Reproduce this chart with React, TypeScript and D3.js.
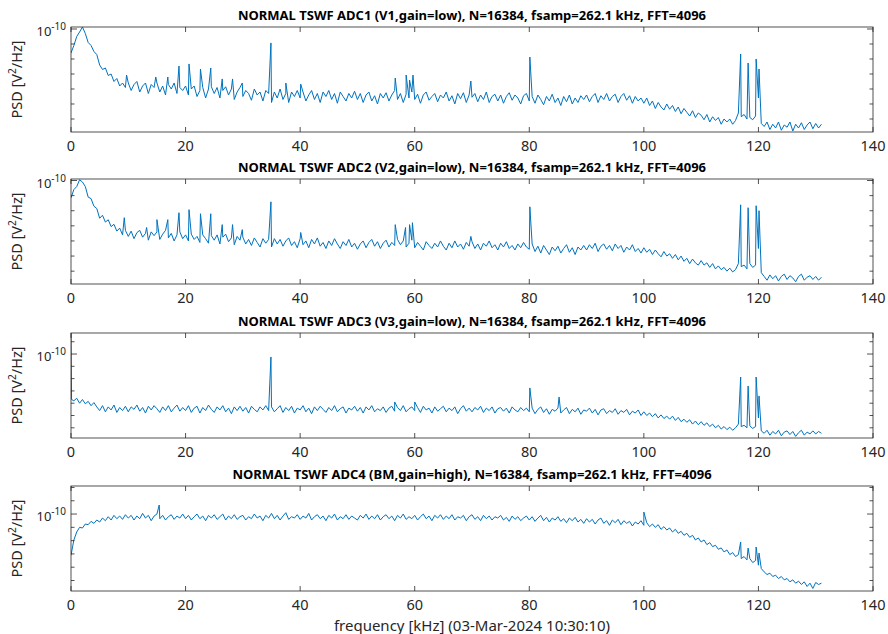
import React from 'react';
import * as d3 from 'd3';

const TITLES = [
  'NORMAL TSWF ADC1 (V1,gain=low), N=16384, fsamp=262.1 kHz, FFT=4096',
  'NORMAL TSWF ADC2 (V2,gain=low), N=16384, fsamp=262.1 kHz, FFT=4096',
  'NORMAL TSWF ADC3 (V3,gain=low), N=16384, fsamp=262.1 kHz, FFT=4096',
  'NORMAL TSWF ADC4 (BM,gain=high), N=16384, fsamp=262.1 kHz, FFT=4096',
];
const X_LABEL = 'frequency [kHz] (03-Mar-2024 10:30:10)';
const X_TICKS = [0, 20, 40, 60, 80, 100, 120, 140];
const X_DOMAIN = [0, 140];
const FREQ_STEP = 0.5; // kHz, grid of the PSD values below (starting at 0 kHz)

// log10 of PSD [V^2/Hz], one value every 0.5 kHz from 0 to 131 kHz
const ADC1_LOG = [
  -11.6, -11.1, -10.5, -10.2, -9.87, -10.3, -10.9, -11.1, -11.5, -11.7,
  -12.4, -12.7, -12.6, -13.1, -13.0, -13.5, -13.3, -13.8, -13.6, -13.9,
  -13.6, -14.1, -13.7, -13.5, -14.2, -13.8, -13.6, -14.3, -13.7, -13.9,
  -13.6, -14.2, -13.8, -14.4, -13.7, -14.0, -13.6, -14.3, -13.9, -14.1,
  -13.8, -14.4, -14.0, -13.8, -14.5, -14.1, -13.9, -14.6, -14.0, -13.85,
  -14.3, -13.9, -14.6, -14.1, -13.85, -14.4, -14.0, -14.7, -14.2, -13.9,
  -14.5, -14.1, -14.3, -14.75, -14.0, -14.4, -14.2, -14.8, -14.1, -14.3,
  -14.9, -14.2, -14.6, -14.0, -14.7, -14.3, -14.9, -14.2, -14.5, -14.1,
  -14.6, -14.2, -14.8, -14.4, -14.1, -14.7, -14.3, -14.9, -14.2, -14.5,
  -14.1, -14.7, -14.3, -14.95, -14.2, -14.5, -14.8, -14.3, -14.6, -14.15,
  -14.7, -14.3, -14.9, -14.4, -14.2, -14.8, -14.45, -15.0, -14.3, -14.6,
  -14.25, -14.8, -14.4, -14.1, -14.7, -14.3, -14.9, -14.35, -14.6, -14.2,
  -14.7, -14.35, -14.95, -14.4, -14.2, -14.75, -14.5, -14.3, -14.85, -14.4,
  -14.6, -14.2, -14.8, -14.45, -15.0, -14.3, -14.65, -14.25, -14.9, -14.4,
  -14.55, -14.3, -14.85, -14.4, -14.7, -14.2, -14.9, -14.5, -14.35, -14.8,
  -14.4, -14.95, -14.5, -14.25, -14.75, -14.4, -14.6, -15.0, -14.45, -14.3,
  -14.8, -14.5, -14.95, -14.4, -14.7, -15.05, -14.5, -14.8, -14.35, -14.9,
  -14.6, -15.1, -14.5, -14.85, -14.4, -15.0, -14.6, -14.9, -14.45, -14.7,
  -14.4, -14.85, -14.5, -14.3, -14.9, -14.45, -14.7, -14.3, -14.8, -14.5,
  -14.35, -14.9, -14.5, -14.3, -14.75, -14.45, -14.95, -14.5, -14.8, -14.6,
  -14.95, -14.6, -15.1, -14.8, -15.3, -14.9, -15.2, -15.4, -15.0, -15.35,
  -15.1, -15.5, -15.2, -15.65, -15.3, -15.55, -15.8, -15.45, -15.9, -15.6,
  -15.75, -16.05, -15.7, -16.2, -15.85, -16.1, -15.9, -16.35, -16.0, -16.2,
  -16.0, -16.35, -16.1, -15.6, -15.85, -15.7, -16.0, -15.9, -16.05, -15.8,
  -14.6, -16.3, -16.5, -16.2, -16.7, -16.35, -16.6, -16.2, -16.75, -16.4,
  -16.55, -16.2, -16.8, -16.35, -16.6, -16.25, -16.7, -16.4, -16.2, -16.65,
  -16.3, -16.6, -16.35,
];
// narrow spectral lines: [frequency kHz, log10 PSD]
const ADC1_LINES = [
  [9.7, -13.07], [14.8, -13.2], [16.9, -13.2], [18.85, -12.47], [20.6, -12.33],
  [22.6, -12.67], [24.4, -12.6], [26.4, -13.33], [28.2, -13.33], [29.9, -13.6],
  [34.9, -10.93], [37.5, -13.6], [40.1, -13.67], [56.6, -13.27], [58.5, -13.07],
  [59.1, -13.4], [59.7, -13.07], [69.8, -13.47], [80.1, -11.87],
  [116.9, -11.67], [118.2, -12.27], [119.6, -12.0], [120.1, -12.67],
];

const ADC2_LOG = [
  -11.15, -10.6, -10.4, -9.95, -10.1, -10.4, -11.1, -11.2, -11.7, -11.85,
  -12.5, -12.3, -12.75, -12.6, -13.05, -12.9, -13.35, -13.15, -13.6, -13.3,
  -13.7, -13.35, -13.85, -13.45, -13.3, -13.75, -13.5, -13.95, -13.4, -13.65,
  -13.4, -13.9, -13.55, -13.3, -13.8, -13.5, -14.0, -13.6, -13.4, -13.85,
  -13.6, -14.0, -13.55, -13.9, -13.7, -14.1, -13.6, -13.85, -14.15, -13.65,
  -13.95, -13.6, -14.2, -13.75, -13.55, -14.05, -13.8, -14.25, -13.7, -13.95,
  -13.75, -14.2, -13.9, -14.3, -13.8, -14.1, -14.4, -13.85, -14.15, -13.9,
  -14.4, -13.85, -14.2, -13.9, -14.35, -14.0, -13.8, -14.3, -14.05, -14.45,
  -13.85, -14.25, -14.0, -14.45, -13.9, -14.2, -13.8, -14.35, -14.1, -14.5,
  -14.0, -14.3, -13.85, -14.2, -14.5, -14.05, -14.3, -13.9, -14.4, -14.15,
  -14.55, -14.2, -14.0, -14.45, -14.1, -13.9, -14.35, -14.05, -14.5, -14.15,
  -13.95, -14.4, -14.1, -14.3, -13.9, -14.25, -14.0, -14.4, -14.15, -13.95,
  -14.45, -14.1, -14.35, -14.6, -14.05, -14.3, -14.5, -14.15, -14.4, -14.0,
  -14.35, -14.6, -14.15, -14.45, -14.0, -14.4, -14.2, -14.55, -14.1, -14.35,
  -14.05, -14.5, -14.2, -14.6, -14.15, -14.35, -14.0, -14.45, -14.25, -14.6,
  -14.15, -14.4, -14.05, -14.5, -14.3, -14.6, -14.2, -14.45, -14.1, -14.4,
  -14.55, -14.2, -14.7, -14.35, -14.8, -14.3, -14.6, -14.9, -14.4, -14.65,
  -14.35, -14.8, -14.5, -14.25, -14.75, -14.45, -14.9, -14.4, -14.6, -14.3,
  -14.6, -14.25, -14.5, -14.15, -14.7, -14.35, -14.2, -14.55, -14.3, -14.65,
  -14.2, -14.5, -14.3, -14.75, -14.4, -14.6, -14.25, -14.7, -14.5, -14.8,
  -14.45, -14.75, -14.55, -14.9, -14.6, -14.85, -15.05, -14.7, -15.0, -14.85,
  -15.15, -14.9, -15.25, -15.0, -15.35, -15.15, -15.5, -15.2, -15.45, -15.6,
  -15.3, -15.6, -15.45, -15.75, -15.5, -15.85, -15.65, -15.9, -15.75, -16.0,
  -15.8, -16.05, -15.9, -15.5, -15.7, -15.6, -15.85, -15.5, -15.75, -15.6,
  -14.5, -16.1, -16.35, -16.6, -16.25, -16.5, -16.3, -16.65, -16.35, -16.2,
  -16.55, -16.3, -16.45, -16.7, -16.35, -16.2, -16.6, -16.4, -16.3, -16.55,
  -16.35, -16.6, -16.4,
];
const ADC2_LINES = [
  [9.3, -12.46], [13.2, -13.11], [15.0, -12.59], [16.9, -12.59], [18.85, -12.13],
  [20.6, -11.93], [22.6, -12.2], [24.4, -12.2], [26.4, -12.92], [28.2, -12.92],
  [29.9, -13.25], [34.9, -11.41], [40.1, -13.44], [56.6, -12.92], [58.4, -13.11],
  [59.1, -12.92], [59.6, -12.79], [69.8, -13.7], [80.1, -11.74],
  [116.9, -11.61], [118.2, -11.8], [119.6, -11.67], [120.1, -12.0],
];

const ADC3_LOG = [
  -8.3, -13.8, -13.6, -14.0, -13.7, -14.05, -13.85, -14.2, -13.95, -14.3,
  -14.6, -14.2, -14.7, -14.3, -14.55, -14.15, -14.75, -14.35, -14.6, -14.25,
  -14.7, -14.3, -14.5, -14.15, -14.65, -14.35, -14.8, -14.25, -14.55, -14.2,
  -14.45, -14.75, -14.3, -14.6, -14.2, -14.7, -14.4, -14.15, -14.65, -14.35,
  -14.6, -14.2, -14.75, -14.4, -14.25, -14.8, -14.35, -14.6, -14.15, -14.5,
  -14.75, -14.3, -14.55, -14.2, -14.7, -14.4, -14.85, -14.3, -14.6, -14.25,
  -14.65, -14.35, -14.8, -14.25, -14.5, -14.7, -14.3, -14.55, -14.2, -14.6,
  -14.3, -14.7, -14.45, -14.2, -14.75, -14.35, -14.6, -14.25, -14.8, -14.4,
  -14.55, -14.2, -14.7, -14.4, -14.85, -14.3, -14.6, -14.25, -14.5, -14.75,
  -14.35, -14.6, -14.2, -14.7, -14.45, -14.3, -14.8, -14.4, -14.55, -14.25,
  -14.65, -14.35, -14.8, -14.3, -14.55, -14.2, -14.7, -14.45, -14.6, -14.3,
  -14.75, -14.4, -14.25, -14.65, -14.35, -14.6, -14.2, -14.7, -14.45, -14.3,
  -14.6, -14.35, -14.75, -14.25, -14.55, -14.4, -14.8, -14.3, -14.65, -14.45,
  -14.25, -14.7, -14.4, -14.6, -14.3, -14.85, -14.45, -14.2, -14.65, -14.4,
  -14.7, -14.35, -14.55, -14.25, -14.75, -14.4, -14.6, -14.3, -14.8, -14.45,
  -14.35, -14.65, -14.4, -14.8, -14.3, -14.55, -14.7, -14.35, -14.6, -14.4,
  -14.7, -14.4, -14.85, -14.5, -14.3, -14.75, -14.45, -14.9, -14.5, -14.65,
  -14.4, -14.8, -14.55, -14.35, -14.85, -14.5, -14.7, -14.4, -14.9, -14.55,
  -14.65, -14.4, -14.8, -14.5, -14.95, -14.55, -14.45, -14.85, -14.6, -14.75,
  -14.45, -14.9, -14.6, -14.75, -14.5, -14.95, -14.65, -14.8, -14.55, -15.0,
  -14.7, -15.0, -14.8, -15.1, -14.85, -15.2, -14.95, -15.25, -15.05, -15.3,
  -15.05, -15.4, -15.15, -15.5, -15.3, -15.55, -15.35, -15.7, -15.45, -15.75,
  -15.5, -15.8, -15.6, -15.9, -15.7, -16.0, -15.8, -16.1, -15.9, -16.15,
  -15.95, -16.2, -16.0, -15.7, -15.9, -15.8, -16.0, -15.85, -16.05, -15.9,
  -15.2, -16.25, -16.45, -16.2, -16.6, -16.3, -16.5, -16.2, -16.65, -16.35,
  -16.25, -16.55, -16.3, -16.7, -16.4, -16.2, -16.6, -16.35, -16.5, -16.25,
  -16.5, -16.3, -16.45,
];
const ADC3_LINES = [
  [0.1, -13.7], [34.9, -10.24], [56.5, -13.9], [60.0, -13.9], [80.1, -12.76],
  [85.2, -13.5], [116.9, -11.87], [118.2, -12.6], [119.6, -11.87], [120.1, -13.41],
];

const ADC4_LOG = [
  -13.1, -11.95, -11.35, -11.0, -11.05, -10.75, -10.8, -10.55, -10.7, -10.45,
  -10.6, -10.3, -10.5, -10.2, -10.45, -10.1, -10.35, -10.15, -10.4, -10.05,
  -10.3, -10.1, -10.45, -10.15, -10.35, -9.95, -10.3, -10.1, -10.5, -10.15,
  -10.0, -10.35, -10.1, -10.45, -10.2, -10.05, -10.4, -10.15, -10.3, -10.0,
  -10.35, -10.1, -10.45, -10.2, -10.0, -10.35, -10.15, -10.5, -10.1, -10.3,
  -10.05, -10.4, -10.2, -10.0, -10.45, -10.15, -10.35, -10.05, -10.4, -10.2,
  -10.1, -10.45, -10.2, -10.35, -10.0, -10.3, -10.15, -10.5, -10.1, -10.3,
  -9.95, -10.35, -10.1, -10.45, -10.15, -9.9, -10.4, -10.2, -10.3, -10.05,
  -10.4, -10.15, -10.3, -9.95, -10.45, -10.2, -10.05, -10.35, -10.15, -10.5,
  -10.1, -10.3, -10.0, -10.45, -10.2, -10.35, -10.05, -10.4, -10.15, -10.3,
  -10.45, -10.1, -10.3, -10.0, -10.4, -10.15, -10.35, -10.05, -10.45, -10.2,
  -10.05, -10.35, -10.15, -10.5, -10.1, -10.3, -10.0, -10.4, -10.2, -10.35,
  -10.1, -10.45, -10.2, -10.0, -10.35, -10.15, -10.5, -10.1, -10.3, -10.05,
  -10.4, -10.15, -10.35, -10.05, -10.45, -10.2, -10.3, -10.1, -10.5, -10.2,
  -10.05, -10.4, -10.2, -10.5, -10.1, -10.35, -10.15, -10.45, -10.2, -10.3,
  -10.1, -10.45, -10.25, -10.55, -10.15, -10.4, -10.2, -10.5, -10.3, -10.15,
  -10.45, -10.2, -10.55, -10.3, -10.1, -10.5, -10.25, -10.6, -10.3, -10.45,
  -10.2, -10.55, -10.35, -10.65, -10.3, -10.5, -10.25, -10.6, -10.4, -10.7,
  -10.35, -10.6, -10.4, -10.75, -10.45, -10.3, -10.7, -10.5, -10.85, -10.45,
  -10.65, -10.4, -10.8, -10.5, -10.7, -10.55, -10.9, -10.6, -10.75, -10.5,
  -10.85, -10.65, -10.95, -10.75, -11.0, -10.8, -11.15, -10.95, -11.2, -11.05,
  -11.35, -11.15, -11.45, -11.3, -11.6, -11.45, -11.75, -11.6, -11.95, -11.8,
  -12.1, -11.95, -12.3, -12.15, -12.45, -12.35, -12.65, -12.55, -12.85, -12.7,
  -13.05, -12.9, -13.2, -13.05, -13.35, -13.2, -13.45, -13.35, -13.65, -13.5,
  -13.85, -14.1, -14.35, -14.55, -14.45, -14.7, -14.6, -14.85, -14.7, -14.95,
  -14.85, -15.1, -14.95, -15.2, -15.05, -15.3, -15.1, -15.45, -15.2, -15.6,
  -15.15, -15.3, -15.2,
];
const ADC4_LINES = [
  [15.4, -9.32], [100.0, -9.85], [116.9, -12.1], [118.2, -12.56], [119.6, -12.48], [120.1, -12.93],
];

const SERIES_LOG = [ADC1_LOG, ADC2_LOG, ADC3_LOG, ADC4_LOG];
const SERIES_LINES = [ADC1_LINES, ADC2_LINES, ADC3_LINES, ADC4_LINES];
// y-axis limits per panel, as log10 exponents [bottom, top]
const Y_LIMITS_EXP = [
  [-16.867, -9.867],
  [-16.85, -9.9],
  [-16.83, -8.29],
  [-15.79, -7.89],
];
const LABELED_EXP = -10;

const FONT = '"Noto Sans", "DejaVu Sans", sans-serif';
const LINE_COLOR = '#0072BD';
const AXIS_COLOR = '#262626';

export default function App() {
  const W = 888;
  const H = 634;
  const left = 71;
  const right = 873;
  const panelTops = [27, 179, 333, 486];
  const ph = 105;
  const x = d3.scaleLinear().domain(X_DOMAIN).range([left, right]);

  return (
    <svg width={W} height={H} style={{ position: 'absolute', left: 0, top: 0, background: '#fff' }} fontFamily={FONT}>
      <rect x={0} y={0} width={W} height={H} fill="#fff" />
      {panelTops.map((top, p) => {
        const [eLo, eHi] = Y_LIMITS_EXP[p];
        const y = d3.scaleLog().domain([Math.pow(10, eLo), Math.pow(10, eHi)]).range([top + ph, top]);
        const pts = SERIES_LOG[p].map((v, i) => ({ f: i * FREQ_STEP, v }));
        SERIES_LINES[p].forEach(([f, v]) => pts.push({ f, v }));
        pts.sort((a, b) => a.f - b.f);
        const line = d3
          .line<{ f: number; v: number }>()
          .x((d) => x(d.f))
          .y((d) => y(Math.pow(10, d.v)));
        const decades = d3.range(Math.ceil(eLo), Math.floor(eHi) + 1);
        const clipId = `clip${p}`;
        return (
          <g key={p}>
            <defs>
              <clipPath id={clipId}>
                <rect x={left} y={top} width={right - left} height={ph} />
              </clipPath>
            </defs>
            <path d={line(pts) || ''} fill="none" stroke={LINE_COLOR} strokeWidth={1} clipPath={`url(#${clipId})`} strokeLinejoin="round" />
            <rect x={left} y={top} width={right - left} height={ph} fill="none" stroke={AXIS_COLOR} strokeWidth={0.8} />
            {X_TICKS.map((t) => (
              <g key={t}>
                <line x1={x(t)} x2={x(t)} y1={top + ph} y2={top + ph - 5} stroke={AXIS_COLOR} strokeWidth={0.8} />
                <line x1={x(t)} x2={x(t)} y1={top} y2={top + 5} stroke={AXIS_COLOR} strokeWidth={0.8} />
                <text x={x(t)} y={top + ph + 19} textAnchor="middle" fontSize={14.5} fill={AXIS_COLOR}>
                  {t}
                </text>
              </g>
            ))}
            {decades.map((e) => {
              const yy = y(Math.pow(10, e));
              const len = e === LABELED_EXP ? 6 : 3.5;
              return (
                <g key={e}>
                  <line x1={left} x2={left + len} y1={yy} y2={yy} stroke={AXIS_COLOR} strokeWidth={0.8} />
                  <line x1={right} x2={right - len} y1={yy} y2={yy} stroke={AXIS_COLOR} strokeWidth={0.8} />
                  {e === LABELED_EXP && (
                    <text x={66} y={yy + 7} textAnchor="end" fontSize={13} fill={AXIS_COLOR}>
                      10
                      <tspan fontSize={10} dy={-6}>
                        {String(e)}
                      </tspan>
                    </text>
                  )}
                </g>
              );
            })}
            <text
              transform={`translate(22,${top + ph / 2}) rotate(-90)`}
              textAnchor="middle"
              fontSize={14.5}
              fill={AXIS_COLOR}
            >
              PSD [V
              <tspan fontSize={10} dy={-6}>
                2
              </tspan>
              <tspan dy={6}>/Hz]</tspan>
            </text>
            <text x={(left + right) / 2} y={top - 7.5} textAnchor="middle" fontSize={13} fontWeight="bold" fill="#000">
              {TITLES[p]}
            </text>
          </g>
        );
      })}
      <text x={(left + right) / 2} y={631} textAnchor="middle" fontSize={15} fill={AXIS_COLOR}>
        {X_LABEL}
      </text>
    </svg>
  );
}
